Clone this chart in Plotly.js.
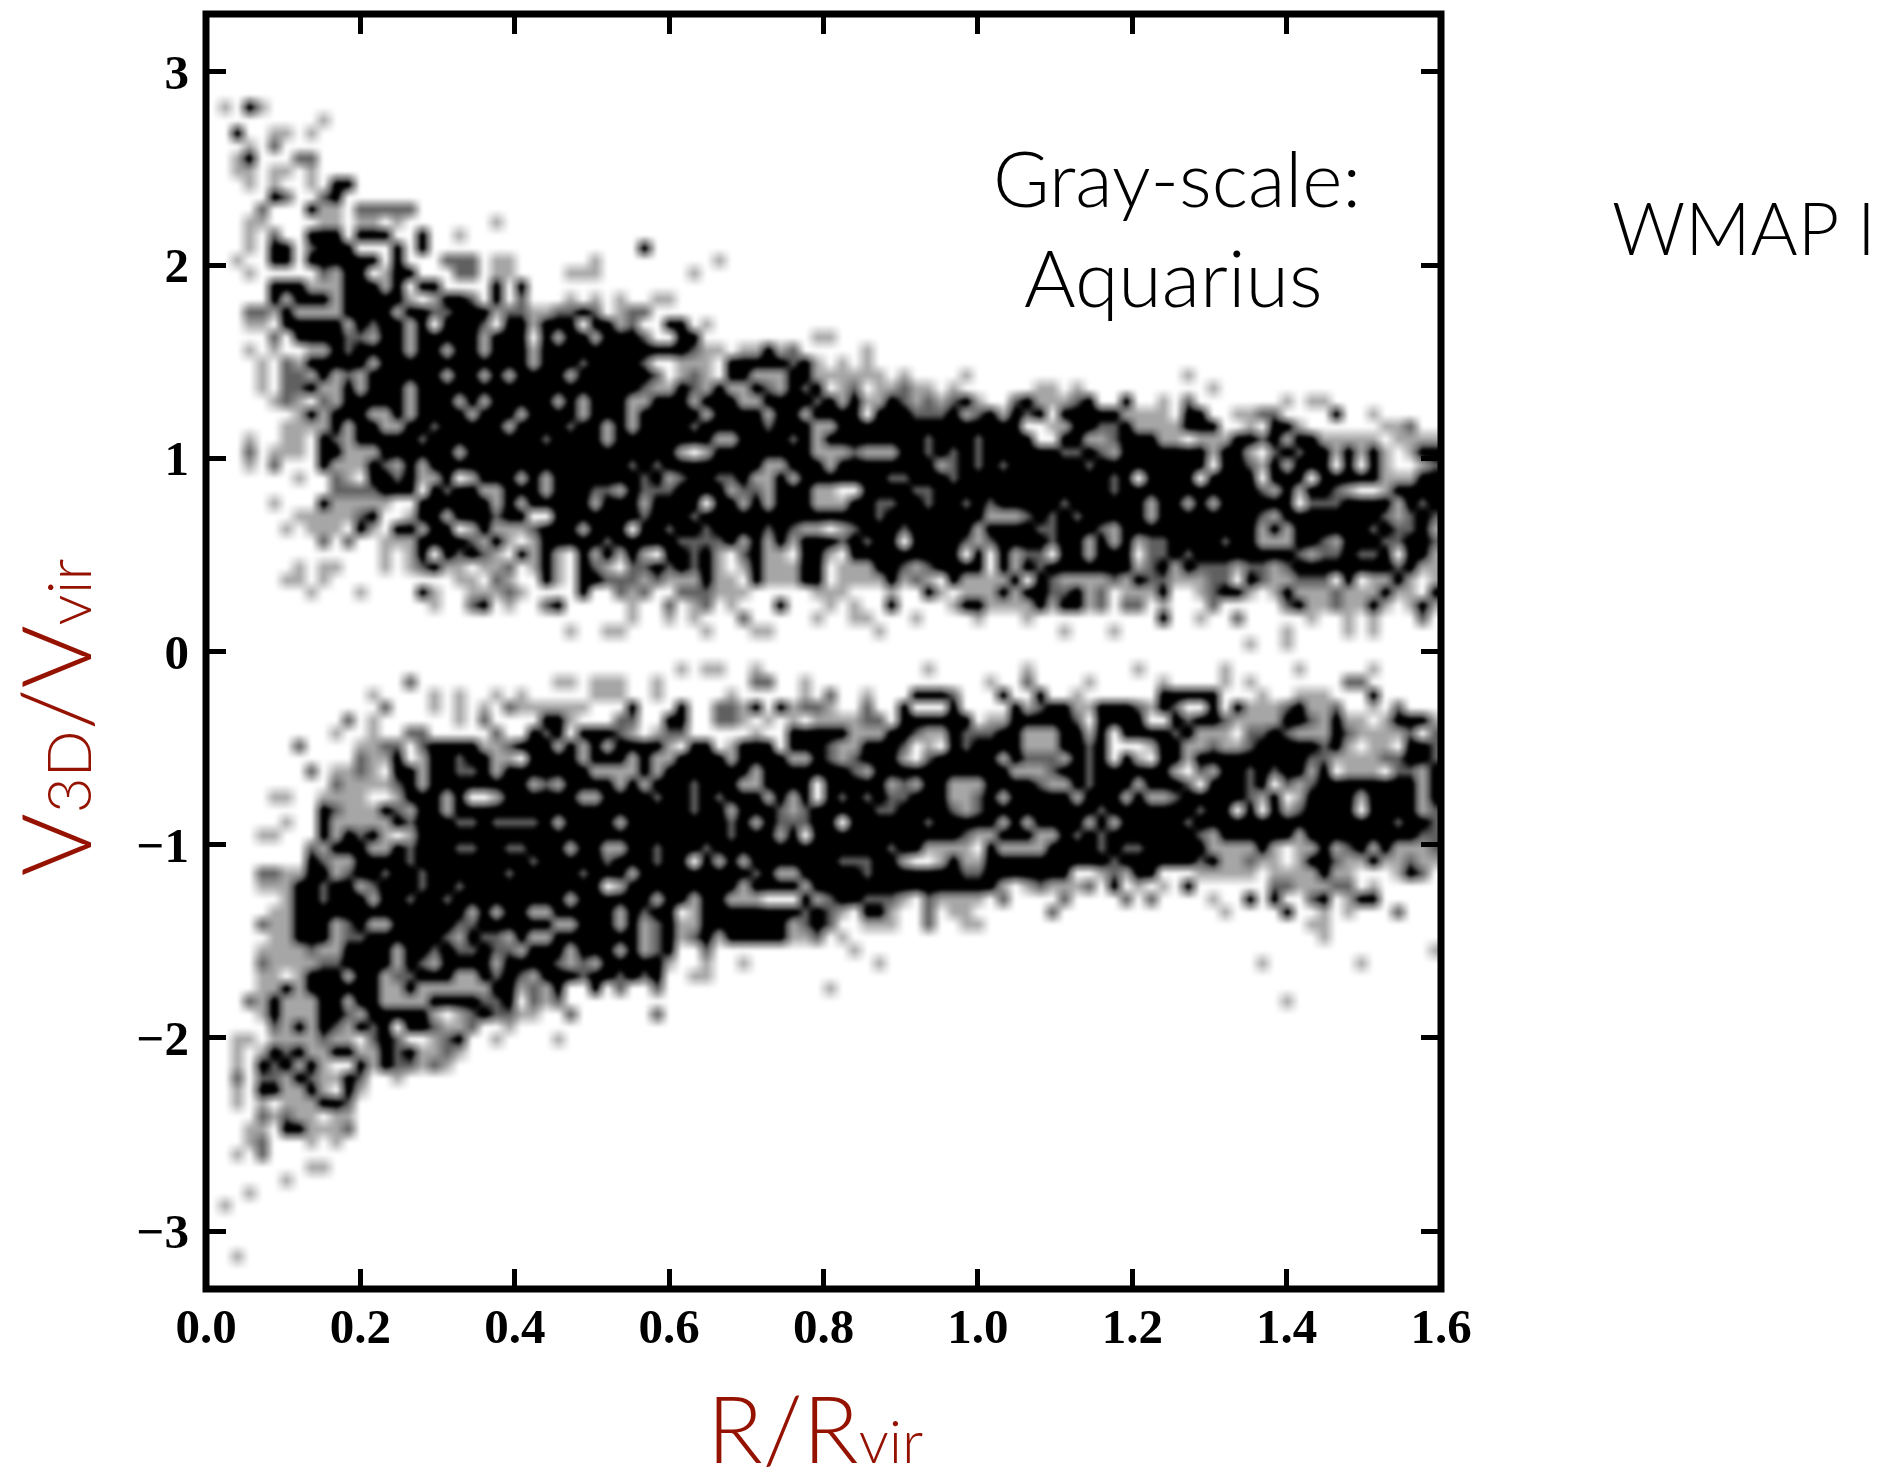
<!DOCTYPE html>
<html>
<head>
<meta charset="utf-8">
<script src="https://cdn.plot.ly/plotly-3.0.1.min.js"></script>
<style>html,body{margin:0;padding:0;background:#fff;overflow:hidden}#chart{width:1889px;height:1472px}</style>
</head>
<body>
<div id="chart"></div>
<script>
// 2-D histogram counts. Level per cell: 0 empty, 1 light, 2 mid, 3 dense.
// Each string is one row (top to bottom). Left half = columns 0-49, right half = columns 50-99.
const leftCells = [
"","","","","","","",
"0103100000",
"0000000001",
"0030011010",
"0001020000",
"0013000220",
"0011011010",
"000101001033",
"00000320023",
"00002000311022222",
"0001100001101101000000010000",
"000102003330333003001",
"000103302333000303000000000000000003",
"00100330333333030002220110000001000000000100000000",
"00010000021330133000220110000111000000010000000000",
"0000033311133313033000030300000000000000000000000",
"00000313331333331013320302000101010011000000000000",
"00022131111333313322333122112232012200000000000000",
"00011033333132331303332033133303312003301000000000",
"00000203333221331333331333031331333200330000000001",
"00010100113233331331331333133333333333321101131200",
"00001021333331333333333333133323333200111033333231",
"00001022131213333331331313333133333320121033111331",
"00001022311313331333333333333333333211321311321323",
"00000121021333331333131333331313331133313331133332",
"00000001313331131333313331333313331333331333313313",
"00000011113133113323333313333233131333323333323331",
"00010011032133333233333333323333133333333113333231",
"00020111033111333333133333333333333333101333333331",
"00010200031113213133333333333333332323333333311333",
"00000001002103323113013331313333333231233223113133",
"00000000002222333032331133313332213222333312213331",
"00000100031111100333333131333331333133330331313331",
"00000001111123001331333233003333333233323333333333",
"00000010111031033133013111233313330332332333323211",
"00000000020200111333321310133333233333222231313133",
"00000000000000101303232103131031313103323102311033",
"00000001011000101231101120131032102232323101311133",
"00000011010000000000110210031033222121113110311133",
"00000000100010000310011121000030021200222111000001",
"00000000000000000010023010023000001002012010003000",
"00000000000000000000000000000000001001010002000001",
"00000000000000000000000000000100110000001000110000",
"",
"",
"00000000000000000000000000000000000000101100100000",
"00000000000000002000000000001101110010000000220010",
"00000000000001000010100101000001110010000010000010",
"00000000000000200010101021111110003000300221303122",
"00000000000201000000102000033100022003300221010101",
"00000000001001002200000200323033321012200000100333",
"00000002000011220233331123331313133331033013330333",
"00000000000021130133233110333313331311333313333113",
"00000000201121033133223133333331111313333333133333",
"00000000002111123133333333121333313133323331133330",
"00000110011110013331300133333311333323323233313130",
"00000000032111321331333333333333333333323313332123",
"00000010031111132333223222231333313333333323132223",
"00001100031323101333333333333333333333333323331303",
"00000000213331132333223322333133113323332333333333",
"00000000321133332333333333233333233323303131333333",
"00002211331233233233333323333323331333333333231133",
"00001113323312333233233333333333013333333331333313",
"00000013323331332332333333333133333313313311100031",
"00000113333333333333313133113333313233013333333323",
"00002113331231133333223333331133313123113333333123",
"00000113331223333332132213113333333123123133333112",
"00001111211333313323223221333133313123002000000000",
"00002111122333313213333133332121333331001001000000",
"00001101333133122333113232133323323230011000000000",
"00001131333333113111111331213003020020000000000000",
"00021311133133111133332230212000000000000000000000",
"00001311133213333310123221100200000020000000000000",
"00000213132132303321120010000000000000000000000000",
"00110111121102320012300100001000000000000000000000",
"00101323113311323112100000000000000000000000000000",
"00103231310031322121000000000000000000000000000000",
"00202213211320010000",
"00103311310310000000",
"00101011133200000000",
"00002121101100000000",
"00011033111200000000",
"00012000101",
"0010200000",
"0000000011",
"0000001",
"0001",
"01",
"","","",
"001",
"",""
];
const rightCells = [
"","","","","","","","","","","","","","","","","","","","","","","","","",
"1",
"0001",
"0101",
"111110100001000000000000000001",
"0120112110100000011010000000000100000000",
"31311321212310023111230030010200000001011000000000",
"33303332223123132303333311110330011220000300100000",
"13333333333333330011332231111333001033100000011200",
"33333333233323333003311233311011133231331111101111",
"11211133232323333332232133333331331023233131310133",
"13333333312323233333323333333330332131333030310012",
"33333223332333333333333230333303333033303333311133",
"10033332233333333333333233333333333213133210013333",
"11332233233232333332333333133131333333022233331323",
"33332333333331112323233333133333333213333333321232",
"01233323333313333223332133333333333131333333232231",
"32323303333212333323313131223333233111332133322332",
"10333333333030312203313330223233333333212232230331",
"01113321233330313233333331231322212212333333332311",
"01111312103111130321111213221112203211222030113101",
"11000100310111313322312011130012331013111211131103",
"10100300001331111313312022010002000002311211310131",
"00110001000010001000000000030010020000010010100020",
"00001000000000000001000100000000000001000010100000",
"00000000000000000000000000000000001001000",
"",
"00000000100000001000000001000000100000100000100000",
"00000000000001002000010000010000101000000022",
"20010003332000300300100000033333000100111000300000",
"10020030003000031233113332132003031112311200102000",
"11122033333301133333203333003233211113321311013331",
"33111332113222331113313033332311102232111321111202",
"21133320103233331113323000133112112333332310110332",
"21233310233333132221323031033133333333322111122332",
"33213333333333311123323333331021332323313011102213",
"33333121331113333211323331333203332302123333333313",
"32323223331123133333133313112333332130133331333313",
"33332233332123333333332333333323303031233330333312",
"30333333233333131333313133333233333333333333332332",
"33333333333211333113232333333321333333133333333322",
"33333233111103111133332322333331111310113123131112",
"32223310013113333333333233333323112110133211311211",
"33323333333223333333001213300011111011113110001320",
"33333333333333101211120301010300000022111220100000",
"23322210211110200002000020200001003030023013300000",
"21033100201100000020000000000000100003001010002000",
"20011100200110000000000000000000000000011",
"01000000000000000000000000000000000000001",
"00100000000000000000000000000000000000000000000001",
"00001000000000000000000000000000000100000001",
"",
"1",
"00000000000000000000000000000000000001",
"","","","","","","","","","","","","","","","","","","","","",""
];
const xTicks = [0,0.2,0.4,0.6,0.8,1.0,1.2,1.4,1.6];
const yTicks = [-3,-2,-1,0,1,2,3];
const xTitle = 'R/R<span style="font-size:60px">vir</span>';
const yTitle = 'V<span style="font-size:62px">3D</span>/V<span style="font-size:62px">vir</span>';
const labelLeft = ['Gray-scale:','Aquarius'];
const labelRight = 'WMAP I';

const nCols = 100, nRows = 100;
const xCentres = Array.from({length:nCols},(_,c)=>0.008+0.016*c);
const yCentres = Array.from({length:nRows},(_,r)=>3.28-0.0661*r);
const pad = (s,n)=>(s+'0'.repeat(n)).slice(0,n);
const zRows = [];
for(let r=0;r<nRows;r++){
  const s = pad(leftCells[r]||'',50)+pad(rightCells[r]||'',50);
  zRows.push(Array.from(s,Number));
}
const axisStyle = {
  showgrid:false, zeroline:false, showline:false, linewidth:0,
  mirror:'ticks', ticks:'inside', ticklen:20, tickwidth:5, tickcolor:'#000',
  tickfont:{family:'"Liberation Serif",serif',size:49,color:'#000',weight:700}
};
const W=1889,H=1472,L=205.5,R=1441.5,T=13.5,B=1289;
const px=x=>(x-L)/(R-L), py=y=>(B-y)/(B-T);
const lightFont=(s,c)=>({family:'Lato,sans-serif',size:s,color:c||'#000',weight:300});
const note=(text,x,y,xa,ya,font,extra)=>Object.assign({text,xref:'paper',yref:'paper',x:px(x),y:py(y),xanchor:xa,yanchor:ya,showarrow:false,font,borderpad:0},extra||{});
const gd=document.getElementById('chart');
Plotly.newPlot(gd,[{
  type:'heatmap', x:xCentres, y:yCentres.slice().reverse(), z:zRows.slice().reverse(),
  zmin:0, zmax:3, zsmooth:'best', showscale:false, hoverinfo:'skip',
  colorscale:[[0,'#ffffff'],[0.3333,'#a6a6a6'],[0.6667,'#606060'],[0.86,'#000000'],[1,'#000000']]
}],{
  width:W,height:H,paper_bgcolor:'#fff',plot_bgcolor:'#fff',showlegend:false,
  margin:{l:L,r:W-R,t:T,b:H-B,pad:0},
  xaxis:Object.assign({},axisStyle,{range:[0,1.6],tickvals:xTicks,tickformat:'.1f',ticklabelstandoff:4}),
  yaxis:Object.assign({},axisStyle,{range:[-3.3,3.3],tickvals:yTicks,ticklabelstandoff:16}),
  shapes:[{type:'rect',xref:'paper',yref:'paper',x0:0,x1:1,y0:0,y1:1,layer:'above',line:{color:'#000',width:7},fillcolor:'rgba(0,0,0,0)'}],
  annotations:[
    note(xTitle,814.5,1484,'center','bottom',lightFont(92,'#951200')),
    note(yTitle,111,717,'right','middle',lightFont(96,'#951200'),{textangle:-90}),
    note(labelLeft[0],1177,223.5,'center','bottom',lightFont(77)),
    note(labelLeft[1],1174,325,'center','bottom',lightFont(79)),
    note(labelRight,1612,271,'left','bottom',lightFont(72))
  ]
},{staticPlot:true,displayModeBar:false}).then(()=>{
  gd.querySelectorAll('.hm image').forEach(im=>{im.style.filter='blur(1.7px)';});
});
</script>
</body>
</html>
